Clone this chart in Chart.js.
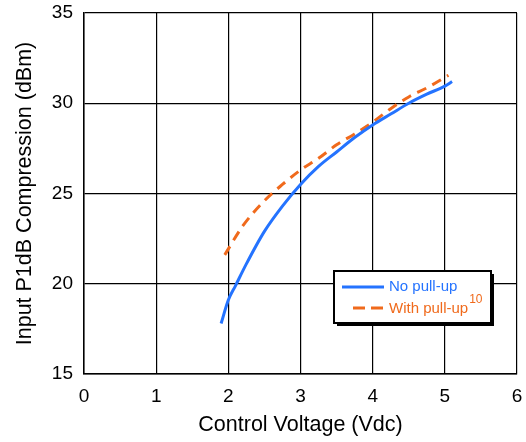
<!DOCTYPE html>
<html>
<head>
<meta charset="utf-8">
<script src="https://cdn.jsdelivr.net/npm/chart.js@4"></script>
<style>
  html, body { margin: 0; padding: 0; background: #fff; }
  #wrap { width: 526px; height: 442px; }
</style>
</head>
<body>
<div id="wrap"><canvas id="p1dbChart"></canvas></div>
<script>
// values
const voltsNoPullUp = [1.9, 2.0, 2.1, 2.25, 2.5, 2.75, 3.0, 3.25, 3.5, 3.75, 4.0, 4.25, 4.5, 4.75, 5.0, 5.1];
const p1dbNoPullUp = [17.8, 19.1, 19.9, 21.1, 22.9, 24.3, 25.5, 26.5, 27.3, 28.1, 28.8, 29.4, 30.0, 30.5, 30.95, 31.2];
const voltsPullUp = [1.95, 2.2, 2.5, 2.75, 3.0, 3.25, 3.5, 3.75, 4.0, 4.25, 4.5, 4.75, 5.05];
const p1dbPullUp = [21.6, 23.2, 24.6, 25.5, 26.3, 26.95, 27.7, 28.3, 28.95, 29.7, 30.35, 30.85, 31.55];
const xTicks = [0, 1, 2, 3, 4, 5, 6];
const yTicks = [15, 20, 25, 30, 35];
const seriesNames = ['No pull-up', 'With pull-up'];

const BLUE = '#2473ff';
const ORANGE = '#f06a1c';
const FONT = 'Liberation Sans, Arial, sans-serif';

const toXY = (xs, ys) => xs.map((x, i) => ({ x: x, y: ys[i] }));

// boxed legend with shadow and superscript, like the original
const boxLegend = {
    id: 'boxLegend',
    afterDraw(chart) {
        const c = chart.ctx;
        const x = 334, y = 271, w = 157, h = 52;
        c.save();
        c.fillStyle = '#000';
        c.fillRect(x + 3, y + 3, w, h);
        c.fillStyle = '#fff';
        c.fillRect(x, y, w, h);
        c.strokeStyle = '#000';
        c.lineWidth = 2;
        c.strokeRect(x, y, w, h);

        c.lineWidth = 3;
        c.strokeStyle = BLUE;
        c.beginPath();
        c.moveTo(342, 287);
        c.lineTo(384, 287);
        c.stroke();

        c.strokeStyle = ORANGE;
        c.setLineDash([12, 6]);
        c.beginPath();
        c.moveTo(353, 308);
        c.lineTo(384, 308);
        c.stroke();
        c.setLineDash([]);

        c.font = '15px ' + FONT;
        c.textBaseline = 'middle';
        c.fillStyle = BLUE;
        c.fillText(seriesNames[0], 389, 287);
        c.fillStyle = ORANGE;
        c.fillText(seriesNames[1], 389, 309);
        const tw = c.measureText(seriesNames[1]).width;
        c.font = '12px ' + FONT;
        c.fillText('10', 389 + tw + 1, 300);
        c.restore();
    }
};

new Chart(document.getElementById('p1dbChart'), {
    type: 'scatter',
    data: {
        datasets: [{
            label: seriesNames[0],
            data: toXY(voltsNoPullUp, p1dbNoPullUp),
            showLine: true,
            borderColor: BLUE,
            borderWidth: 3,
            pointRadius: 0,
            cubicInterpolationMode: 'monotone'
        }, {
            label: seriesNames[1],
            data: toXY(voltsPullUp, p1dbPullUp),
            showLine: true,
            borderColor: ORANGE,
            borderWidth: 3,
            borderDash: [10, 7],
            pointRadius: 0,
            cubicInterpolationMode: 'monotone'
        }]
    },
    options: {
        responsive: true,
        maintainAspectRatio: false,
        animation: false,
        layout: { padding: { top: 13, right: 9, left: 0, bottom: 0 } },
        plugins: {
            legend: { display: false },
            tooltip: { enabled: false }
        },
        scales: {
            x: {
                type: 'linear',
                min: 0,
                max: 6,
                afterBuildTicks: s => { s.ticks = xTicks.map(v => ({ value: v })); },
                afterFit: s => { s.height = 68; s.paddingLeft = 0; s.paddingRight = 0; },
                grid: { color: '#000', lineWidth: 1.2, drawTicks: false },
                border: { color: '#000', width: 1.5 },
                ticks: { color: '#000', padding: 11, font: { family: FONT, size: 19 } },
                title: {
                    display: true,
                    text: 'Control Voltage (Vdc)',
                    color: '#000',
                    font: { family: FONT, size: 21.5 },
                    padding: { top: 0, bottom: 4 }
                }
            },
            y: {
                type: 'linear',
                min: 15,
                max: 35,
                afterBuildTicks: s => { s.ticks = yTicks.map(v => ({ value: v })); },
                afterFit: s => { s.width = 84; s.paddingTop = 0; s.paddingBottom = 0; },
                grid: { color: '#000', lineWidth: 1.2, drawTicks: false },
                border: { color: '#000', width: 1.5 },
                ticks: { color: '#000', padding: 11, font: { family: FONT, size: 19 } },
                title: {
                    display: true,
                    text: 'Input P1dB Compression (dBm)',
                    color: '#000',
                    font: { family: FONT, size: 21.5 },
                    padding: { top: 12, bottom: 0 }
                }
            }
        }
    },
    plugins: [boxLegend]
});
</script>
</body>
</html>
